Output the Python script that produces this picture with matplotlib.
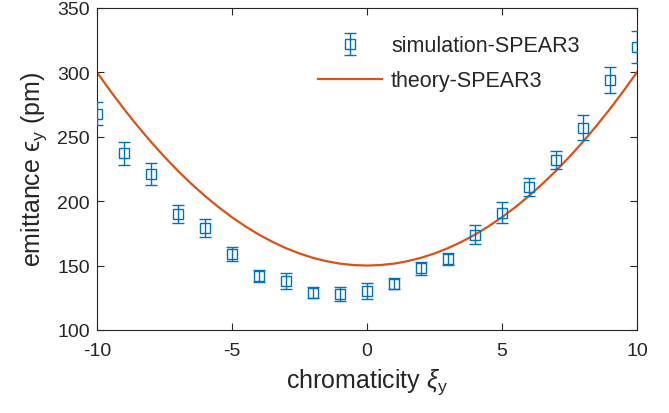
import numpy as np
import matplotlib
matplotlib.use("Agg")
import matplotlib.pyplot as plt

# simulation points
chroma = [-10, -9, -8, -7, -6, -5, -4, -3, -2, -1, 0, 1, 2, 3, 4, 5, 6, 7, 8, 9, 10]
emit_sim = [268, 237, 221, 190, 179, 159, 142, 138, 129, 128, 130,
            136, 148, 155, 174, 191, 211, 232, 257, 294, 320]
emit_err = [9, 8.8, 8.3, 7, 7.2, 5.4, 4.6, 6, 4.4, 5.7, 6.2,
            4, 5, 4.4, 7.2, 8.3, 6.7, 7, 9.6, 10, 12.4]

# theory curve, read every half unit of chromaticity
chroma_th = [-10, -9.5, -9, -8.5, -8, -7.5, -7, -6.5, -6, -5.5, -5, -4.5, -4, -3.5,
             -3, -2.5, -2, -1.5, -1, -0.5, 0, 0.5, 1, 1.5, 2, 2.5, 3, 3.5, 4, 4.5,
             5, 5.5, 6, 6.5, 7, 7.5, 8, 8.5, 9, 9.5, 10]
emit_theory = [300, 285.4, 271.5, 258.4, 246, 234.4, 223.5, 213.4, 204, 195.4,
               187.5, 180.4, 174, 168.4, 163.5, 159.4, 156, 153.4, 151.5, 150.4,
               150, 150.4, 151.5, 153.4, 156, 159.4, 163.5, 168.4, 174, 180.4,
               187.5, 195.4, 204, 213.4, 223.5, 234.4, 246, 258.4, 271.5, 285.4, 300]

blue = '#0072BD'
orange = '#D95319'
dark = '#262626'

plt.rcParams['font.family'] = ['Liberation Sans', 'DejaVu Sans']
plt.rcParams['mathtext.fontset'] = 'custom'
plt.rcParams['mathtext.rm'] = 'Liberation Sans'
plt.rcParams['mathtext.it'] = 'Liberation Sans:italic'
plt.rcParams['axes.unicode_minus'] = False

fig = plt.figure(figsize=(6.69, 4.14), dpi=100)
ax = fig.add_axes([0.145, 0.2005, 0.807, 0.778])

sim = ax.errorbar(chroma, emit_sim, yerr=emit_err, fmt='s', color=blue, mfc='none',
                  mec=blue, ms=6.5, mew=1.0, elinewidth=1.0, capsize=4.5, capthick=1.0,
                  label='simulation-SPEAR3', zorder=3)
th, = ax.plot(chroma_th, emit_theory, color=orange, lw=1.6, label='theory-SPEAR3', zorder=2)

ax.set_xlim(-10, 10)
ax.set_ylim(100, 350)
ax.set_xticks([-10, -5, 0, 5, 10])
ax.set_yticks([100, 150, 200, 250, 300, 350])

ax.tick_params(direction='in', top=True, right=True, labelsize=14,
               colors=dark, length=5, width=0.8)
ax.tick_params(axis='x', pad=9)
ax.tick_params(axis='y', pad=5)
for s in ax.spines.values():
    s.set_color(dark)
    s.set_linewidth(0.8)

ax.set_xlabel(r'chromaticity $\xi_{\rm y}$', fontsize=18, color=dark, labelpad=5)
ax.set_ylabel('emittance $\\mathrm{\u03f5}_{\\rm y}$ (pm)', fontsize=18, color=dark, labelpad=6)

leg = ax.legend([sim, th], ['simulation-SPEAR3', 'theory-SPEAR3'],
                loc='upper left', bbox_to_anchor=(0.409, 0.915), frameon=False,
                fontsize=15.5, handlelength=3.0, handletextpad=0.4,
                borderpad=0, borderaxespad=0, labelspacing=0.65)
for t in leg.get_texts():
    t.set_color(dark)

fig.savefig('out.png', dpi=100)
